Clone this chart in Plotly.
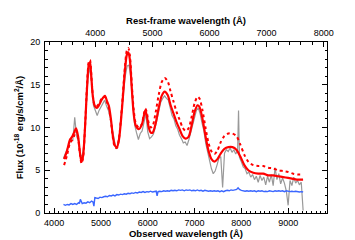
import plotly.graph_objects as go

# ---- data ----
model_wave = [4213, 4277, 4340, 4383, 4426, 4468, 4511, 4553, 4585, 4617, 4660, 4702, 4745, 4766, 4787,
              4830, 4872, 4915, 4958, 5021, 5085, 5128, 5170, 5213, 5255, 5298, 5340, 5383, 5447, 5511,
              5553, 5585, 5617, 5660, 5702, 5745, 5809, 5872, 5915, 5947, 5979, 6021, 6064, 6106, 6170,
              6234, 6298, 6362, 6426, 6489, 6553, 6617, 6681, 6745, 6809, 6872, 6936, 7000, 7064, 7106,
              7170, 7234, 7298, 7362, 7426, 7489, 7553, 7638, 7723, 7809, 7894, 7979, 8064, 8149, 8255,
              8362, 8468, 8575, 8681, 8787, 8894, 9000, 9106, 9213, 9319]
model_solid = [6.3, 7.3, 8.6, 8.9, 9.4, 9.9, 9.0, 7.0, 6.0, 6.6, 10.0, 14.5, 17.5, 17.6, 16.5,
               13.5, 12.5, 12.3, 12.6, 13.3, 13.7, 13.1, 12.5, 11.0, 9.0, 7.9, 7.7, 8.5, 12.0, 16.5,
               18.5, 18.8, 18.0, 14.5, 11.5, 10.2, 9.8, 10.3, 11.3, 12.0, 11.4, 10.0, 9.4, 9.4, 10.5,
               12.3, 13.7, 14.2, 13.8, 12.6, 11.6, 10.6, 9.8, 9.0, 8.7, 8.9, 10.2, 11.8, 12.6, 12.4,
               11.0, 9.0, 7.3, 6.3, 6.0, 6.3, 6.9, 7.5, 7.7, 7.7, 7.4, 6.6, 5.6, 5.0, 4.7,
               4.6, 4.6, 4.4, 4.4, 4.3, 4.2, 4.1, 4.0, 3.9, 3.9]
model_dotted = [5.6, 6.8, 8.2, 8.5, 9.0, 9.6, 8.8, 6.8, 5.8, 6.4, 10.0, 14.8, 17.8, 17.9, 16.8,
                13.6, 12.5, 12.5, 12.8, 13.4, 13.6, 13.0, 12.2, 10.8, 8.8, 7.7, 7.6, 8.6, 12.3, 17.0,
                19.0, 19.3, 18.5, 15.0, 12.0, 10.5, 10.0, 10.4, 11.5, 12.2, 11.8, 10.5, 10.0, 10.2, 11.8,
                13.8, 15.3, 15.8, 15.4, 14.2, 13.0, 11.8, 10.9, 10.0, 9.6, 9.9, 11.2, 12.8, 13.6, 13.4,
                12.0, 10.0, 8.2, 7.2, 6.9, 7.3, 8.2, 9.0, 9.3, 9.3, 9.0, 8.0, 6.8, 6.0, 5.6,
                5.5, 5.5, 5.3, 5.2, 5.0, 4.9, 4.8, 4.6, 4.5, 4.5]

obs_wave = [4200, 4240, 4280, 4320, 4360, 4400, 4440, 4480, 4520, 4560, 4600, 4640, 4680, 4720, 4760,
            4800, 4840, 4880, 4920, 4960, 5000, 5040, 5080, 5120, 5160, 5200, 5240, 5280, 5320, 5360,
            5400, 5440, 5480, 5520, 5560, 5600, 5640, 5680, 5720, 5760, 5800, 5840, 5880, 5920, 5960,
            6000, 6040, 6080, 6120, 6160, 6200, 6240, 6280, 6320, 6360, 6400, 6440, 6480, 6520, 6560,
            6600, 6640, 6680, 6720, 6760, 6800, 6840, 6880, 6920, 6960, 7000, 7040, 7080, 7120, 7160,
            7200, 7240, 7280, 7320, 7360, 7400, 7440, 7480, 7520, 7560, 7600, 7640, 7680, 7720, 7760,
            7800, 7840, 7880, 7920, 7940, 7960, 8000, 8040, 8080, 8120, 8160, 8200, 8240, 8280, 8320,
            8360, 8400, 8440, 8480, 8520, 8560, 8600, 8640, 8680, 8720, 8760, 8800, 8840, 8880, 8920,
            8960, 9000, 9040, 9080, 9120, 9160, 9200, 9240, 9280, 9320]
obs_flux = [6.4, 7.0, 7.6, 8.0, 8.6, 8.5, 11.2, 9.0, 8.4, 6.9, 6.5, 8.3, 12.0, 15.6, 17.0,
            15.4, 12.6, 12.0, 11.4, 12.0, 12.4, 12.8, 13.2, 12.5, 12.0, 11.1, 9.8, 8.3, 7.5, 7.9,
            9.4, 11.9, 14.2, 16.0, 17.2, 17.3, 15.8, 12.6, 10.3, 9.4, 8.6, 9.3, 9.6, 10.6, 11.6,
            9.5, 8.7, 8.9, 9.2, 10.0, 11.0, 12.1, 13.0, 13.4, 13.7, 13.4, 13.2, 12.3, 11.4, 11.0,
            10.2, 9.8, 9.1, 8.7, 8.2, 8.3, 7.9, 8.6, 9.4, 10.5, 11.2, 12.0, 12.3, 11.6, 10.5,
            9.6, 8.1, 7.0, 6.0, 5.2, 4.6, 4.9, 5.6, 6.4, 6.6, 3.0, 7.0, 7.4, 7.2, 7.6,
            7.1, 7.4, 6.9, 7.3, 12.0, 6.5, 6.0, 5.4, 5.2, 4.6, 4.8, 4.2, 4.5, 3.9, 4.3,
            3.6, 4.4, 3.8, 4.2, 3.3, 4.3, 3.6, 4.5, 3.2, 5.3, 3.9, 4.6, 3.4, 4.1, 3.5,
            2.6, 0.9, 3.8, 3.2, 4.2, 3.5, 3.8, 3.3, 3.6, 0.3]

host_wave = [4200, 4240, 4280, 4320, 4360, 4400, 4440, 4480, 4520, 4540, 4560, 4600, 4640, 4680, 4720,
             4760, 4800, 4830, 4850, 4870, 4900, 4940, 4980, 5020, 5060, 5100, 5140, 5180, 5220, 5260,
             5300, 5340, 5380, 5420, 5460, 5500, 5540, 5580, 5620, 5660, 5700, 5740, 5780, 5820, 5860,
             5900, 5940, 5980, 6020, 6060, 6100, 6140, 6180, 6200, 6220, 6260, 6300, 6340, 6380, 6420,
             6460, 6500, 6540, 6580, 6620, 6660, 6700, 6740, 6780, 6820, 6860, 6900, 6940, 6980, 7020,
             7060, 7100, 7140, 7180, 7220, 7260, 7300, 7340, 7380, 7420, 7460, 7500, 7540, 7580, 7620,
             7660, 7700, 7740, 7780, 7820, 7860, 7900, 7930, 7960, 8000, 8040, 8080, 8120, 8160, 8200,
             8240, 8280, 8320, 8360, 8400, 8440, 8480, 8520, 8560, 8600, 8640, 8680, 8720, 8760, 8800,
             8840, 8880, 8920, 8960, 9000, 9040, 9080, 9120, 9160, 9200, 9240, 9280, 9320]
host_flux = [1.0, 0.9, 1.0, 0.95, 1.1, 1.0, 1.1, 1.0, 1.2, 1.1, 1.6, 1.1, 1.2, 1.15, 1.3,
             1.2, 1.4, 1.3, 0.8, 1.8, 1.75, 1.7, 1.85, 1.8, 1.9, 1.95, 1.9, 2.05, 2.0, 2.1,
             2.0, 2.15, 2.1, 2.2, 2.15, 2.25, 2.2, 2.3, 2.25, 2.35, 2.3, 2.4, 2.35, 2.45, 2.4,
             2.5, 2.4, 2.5, 2.45, 2.55, 2.45, 2.5, 2.55, 2.0, 2.5, 2.55, 2.5, 2.6, 2.55, 2.6,
             2.55, 2.65, 2.6, 2.65, 2.6, 2.7, 2.65, 2.7, 2.6, 2.7, 2.65, 2.7, 2.6, 2.65, 2.6,
             2.7, 2.6, 2.65, 2.55, 2.65, 2.6, 2.55, 2.6, 2.55, 2.6, 2.55, 2.6, 2.5, 2.6, 2.5,
             2.6, 2.65, 2.6, 2.7, 2.65, 2.7, 2.75, 2.95, 2.75, 2.65, 2.6, 2.55, 2.6, 2.55, 2.6,
             2.55, 2.6, 2.5, 2.6, 2.55, 2.6, 2.5, 2.55, 2.5, 2.6, 2.55, 2.5, 2.6, 2.55, 2.6,
             2.55, 2.6, 2.5, 2.6, 2.55, 2.5, 2.55, 2.5, 2.55, 2.5, 2.45, 2.5, 2.45]

obs_range = [3805, 9830]
redshift = 0.22
rest_ticks = [4000, 5000, 6000, 7000, 8000]

FONT = "Liberation Sans, Arial, sans-serif"

fig = go.Figure()
fig.add_trace(go.Scatter(x=obs_wave, y=obs_flux, mode="lines",
                         line=dict(color="#999999", width=1.2), hoverinfo="skip"))
fig.add_trace(go.Scatter(x=host_wave, y=host_flux, mode="lines",
                         line=dict(color="#3a66ff", width=1.4), hoverinfo="skip"))
fig.add_trace(go.Scatter(x=model_wave, y=model_dotted, mode="lines",
                         line=dict(color="#ff0000", width=2, dash="dot", shape="spline", smoothing=0.8),
                         hoverinfo="skip"))
fig.add_trace(go.Scatter(x=model_wave, y=model_solid, mode="lines",
                         line=dict(color="#ff0000", width=2.2, shape="spline", smoothing=0.8),
                         hoverinfo="skip"))
# dummy trace to activate the rest-frame (top) axis
fig.add_trace(go.Scatter(x=rest_ticks, y=[None] * len(rest_ticks), xaxis="x2", mode="lines",
                         hoverinfo="skip", showlegend=False))

tickfont = dict(family=FONT, size=9, color="black")
titlefont = dict(family=FONT, size=9.5, color="black", weight="bold")

fig.update_layout(
    width=355, height=240,
    margin=dict(l=36, r=36, t=24, b=25, pad=0),
    paper_bgcolor="white", plot_bgcolor="white",
    showlegend=False,
    xaxis=dict(range=obs_range, showgrid=False, zeroline=False,
               showline=True, linecolor="black", linewidth=1, mirror=False,
               ticks="inside", ticklen=5, tickcolor="black", tickwidth=1,
               tickvals=[4000, 5000, 6000, 7000, 8000, 9000],
               minor=dict(dtick=100, tick0=0, ticks="inside", ticklen=2.5, tickcolor="black"),
               tickfont=tickfont, ticklabelstandoff=1,
               title=dict(text="Observed wavelength (Å)", font=titlefont, standoff=2)),
    xaxis2=dict(range=[obs_range[0] / (1 + redshift), obs_range[1] / (1 + redshift)],
                overlaying="x", side="top", anchor="y",
                showgrid=False, zeroline=False,
                showline=True, linecolor="black", linewidth=1,
                ticks="inside", ticklen=5, tickcolor="black", tickwidth=1,
                tickvals=rest_ticks,
                minor=dict(dtick=200, tick0=0, ticks="inside", ticklen=2.5, tickcolor="black"),
                tickfont=tickfont, ticklabelstandoff=1,
                title=dict(text="Rest-frame wavelength (Å)", font=titlefont, standoff=2)),
    yaxis=dict(range=[0, 20], showgrid=False, zeroline=False,
               showline=True, linecolor="black", linewidth=1, mirror="ticks",
               ticks="inside", ticklen=5, tickcolor="black", tickwidth=1,
               tickvals=[0, 5, 10, 15, 20],
               minor=dict(dtick=1, ticks="inside", ticklen=2.5, tickcolor="black"),
               tickfont=tickfont, ticklabelstandoff=2,
               title=dict(text="Flux (10<sup>-18</sup> erg/s/cm<sup>2</sup>/Å)", font=titlefont, standoff=4)),
)

fig.write_html("out.html")
